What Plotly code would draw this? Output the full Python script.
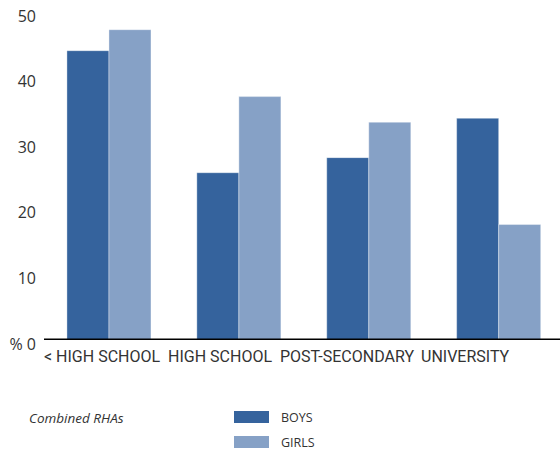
import plotly.graph_objects as go

# Share of children by parental education level (%)
categories = ["< HIGH SCHOOL", "HIGH SCHOOL", "POST-SECONDARY", "UNIVERSITY"]
boys = [44.1, 25.5, 27.8, 33.8]
girls = [47.3, 37.1, 33.2, 17.6]
y_ticks = [0, 10, 20, 30, 40, 50]
y_ticktext = ["% 0", "10", "20", "30", "40", "50"]
region_note = "Combined RHAs"

BOYS_COLOR = "#35639d"
GIRLS_COLOR = "#86a1c6"
TEXT_COLOR = "#333333"
FONT = "Open Sans"
LABEL_FONT = "Roboto"

W, H = 560, 450
M_L, M_R, M_T, M_B = 44, 0, 12, 110
PLOT_W = W - M_L - M_R
PLOT_H = H - M_T - M_B


def px_x(v):
    """Page pixel x -> paper fraction."""
    return (v - M_L) / PLOT_W


def px_y(v):
    """Page pixel y (from top) -> paper fraction."""
    return (H - M_B - v) / PLOT_H


x_idx = list(range(len(categories)))

fig = go.Figure()
fig.add_trace(go.Bar(x=x_idx, y=boys, name="BOYS", marker=dict(color=BOYS_COLOR,
                     line=dict(color="rgba(255,255,255,0.45)", width=0.8))))
fig.add_trace(go.Bar(x=x_idx, y=girls, name="GIRLS", marker=dict(color=GIRLS_COLOR,
                     line=dict(color="rgba(255,255,255,0.45)", width=0.8))))

fig.update_layout(
    width=W, height=H,
    margin=dict(l=M_L, r=M_R, t=M_T, b=M_B),
    paper_bgcolor="white", plot_bgcolor="white",
    barmode="group", bargap=0.353, bargroupgap=0,
    showlegend=False,
    font=dict(family=FONT, color=TEXT_COLOR),
    xaxis=dict(range=[-0.5, 3.472], showticklabels=False, showgrid=False,
               zeroline=False, showline=False, ticks=""),
    yaxis=dict(range=[0, 50], tickvals=y_ticks, ticktext=y_ticktext,
               showgrid=False, zeroline=False, showline=False, ticks="",
               tickfont=dict(size=16, color=TEXT_COLOR),
               ticklabelshift=4, ticklabelstandoff=7),
)

# Baseline
fig.add_shape(type="line", xref="paper", yref="y", x0=0, x1=1, y0=0, y1=0,
              line=dict(color="black", width=3))

# Category labels, set slightly left of each bar group
label_shift = [-7, -19, -22, -33]
for i, (cat, dx) in enumerate(zip(categories, label_shift)):
    fig.add_annotation(x=i, y=0, xref="x", yref="y", text=cat, showarrow=False,
                       xanchor="center", yanchor="top", xshift=dx, yshift=-5,
                       font=dict(size=16, color=TEXT_COLOR, family=LABEL_FONT))

# Footer note
fig.add_annotation(x=px_x(27), y=px_y(418), xref="paper", yref="paper",
                   text=f"<i>{region_note}</i>", showarrow=False,
                   xanchor="left", yanchor="middle",
                   font=dict(size=13.5, color=TEXT_COLOR, family=FONT))

# Key
for name, color, yc in [("BOYS", BOYS_COLOR, 417), ("GIRLS", GIRLS_COLOR, 442)]:
    fig.add_shape(type="rect", xref="paper", yref="paper",
                  x0=px_x(234), x1=px_x(269), y0=px_y(yc + 6), y1=px_y(yc - 6),
                  fillcolor=color, line=dict(width=0))
    fig.add_annotation(x=px_x(279), y=px_y(yc), xref="paper", yref="paper",
                       text=name, showarrow=False, xanchor="left", yanchor="middle",
                       font=dict(size=12.5, color=TEXT_COLOR, family=FONT))

fig.write_html("out.html")
